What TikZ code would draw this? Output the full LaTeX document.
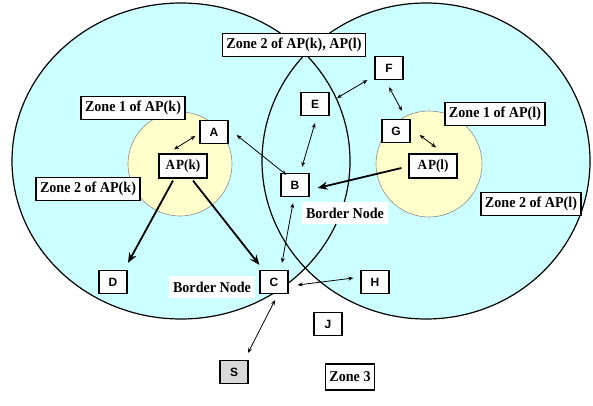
\documentclass[tikz,border=0pt]{standalone}
\usepackage{fontspec}
\setmainfont[FakeStretch=0.94]{Liberation Serif}
\setsansfont{Liberation Sans}
\usetikzlibrary{arrows.meta,calc}
\definecolor{zcyan}{RGB}{204,255,255}
\definecolor{zyellow}{RGB}{255,255,204}
\definecolor{sgray}{RGB}{217,217,217}
\begin{document}
\begin{tikzpicture}[x=1pt,y=-1pt,
  zlabel/.style={draw=black,fill=white,line width=1.2pt,font=\fontsize{15}{17}\selectfont\bfseries,inner xsep=4pt,inner ysep=0pt,minimum height=23pt},
  plainlabel/.style={fill=white,font=\fontsize{15}{17}\selectfont\bfseries,inner xsep=4pt,inner ysep=0pt,minimum height=22pt},
  letter/.style={draw=black,fill=white,line width=1.2pt,font=\sffamily\bfseries\fontsize{12}{14}\selectfont,minimum width=28pt,minimum height=23pt,inner sep=0pt},
  apbox/.style={draw=black,fill=white,line width=1.2pt,font=\fontsize{14}{16}\selectfont\bfseries,minimum width=48pt,minimum height=24pt,inner sep=0pt},
  dbl/.style={{Stealth[length=5pt,width=4pt]}-{Stealth[length=5pt,width=4pt]},line width=0.8pt},
  heavy/.style={-{Stealth[length=10pt,width=8pt]},line width=1.8pt},
  ring/.style={line width=1.2pt},
]
\useasboundingbox (0,0) rectangle (593,406);
% zones
\fill[zcyan] (181,161) ellipse [x radius=169, y radius=158];
\fill[zcyan] (426,161) ellipse [x radius=164, y radius=158];
\draw[ring] (181,161) ellipse [x radius=169, y radius=158];
\draw[ring] (426,161) ellipse [x radius=164, y radius=158];
\filldraw[fill=zyellow,draw=black!45,line width=0.6pt] (180,164) circle [radius=52];
\filldraw[fill=zyellow,draw=black!45,line width=0.6pt] (429,164) circle [radius=53];

% labels
\node[zlabel] (zkl) at (294,45) {Zone 2 of AP(k), AP(l)};
\node[zlabel] (z1k) at (133,108) {Zone 1 of AP(k)};
\node[zlabel] (z2k) at (88,189) {Zone 2 of AP(k)};
\node[zlabel] (z1l) at (495,114) {Zone 1 of AP(l)};
\node[zlabel] (z2l) at (531,204) {Zone 2 of AP(l)};
\node[zlabel,minimum height=26pt] (z3) at (350,377) {Zone 3};
\node[plainlabel] (bnB) at (345,213) {Border Node};
\node[plainlabel] (bnC) at (212,287) {Border Node};

% nodes
\node[apbox] (APk) at (183,166) {A\kern1pt P(k)};
\node[apbox] (APl) at (433,166) {A\kern1pt P(l)};
\node[letter] (A) at (214,132) {A};
\node[letter] (B) at (295,185) {B};
\node[letter] (C) at (274,282) {C};
\node[letter] (D) at (113,282) {D};
\node[letter] (E) at (315,104) {E};
\node[letter] (F) at (389,68) {F};
\node[letter] (G) at (396,131) {G};
\node[letter] (H) at (375,282) {H};
\node[letter] (J) at (328,324) {J};
\node[letter,fill=sgray] (S) at (234,372) {S};
\coordinate (arcE) at (337,98);

% connectors
\draw[dbl] ($(APk.north)+(-9,-4)$) -- ($(A.west)+(-4,4)$);
\draw[dbl] ($(A.east)+(8,3)$) -- ($(B.north west)+(6,2)$);
\draw[heavy] ($(APk.south)+(-10,2)$) -- ($(D.north)+(15,-7)$);
\draw[heavy] ($(APk.south)+(10,2)$) -- ($(C.north west)+(0,-5)$);
\draw[dbl] ($(E.south)+(0,7)$) -- ($(B.north)+(7,-6)$);
\draw[dbl] (arcE) -- ($(F.south west)+(-7,0)$);
\draw[dbl] ($(F.south)+(0,7)$) -- ($(G.north)+(6,-8)$);
\draw[dbl] ($(G.east)+(9,4)$) -- ($(APl.north)+(3,-6)$);
\draw[heavy] ($(APl.west)+(-7,2)$) -- ($(B.east)+(8,3)$);
\draw[dbl] ($(B.south)+(-2,6)$) -- ($(C.north)+(8,-7)$);
\draw[dbl] ($(C.east)+(9,3)$) -- ($(H.west)+(-7,-4)$);
\draw[dbl] ($(C.south)+(1,6)$) -- ($(S.north)+(14,-7)$);
\end{tikzpicture}
\end{document}
